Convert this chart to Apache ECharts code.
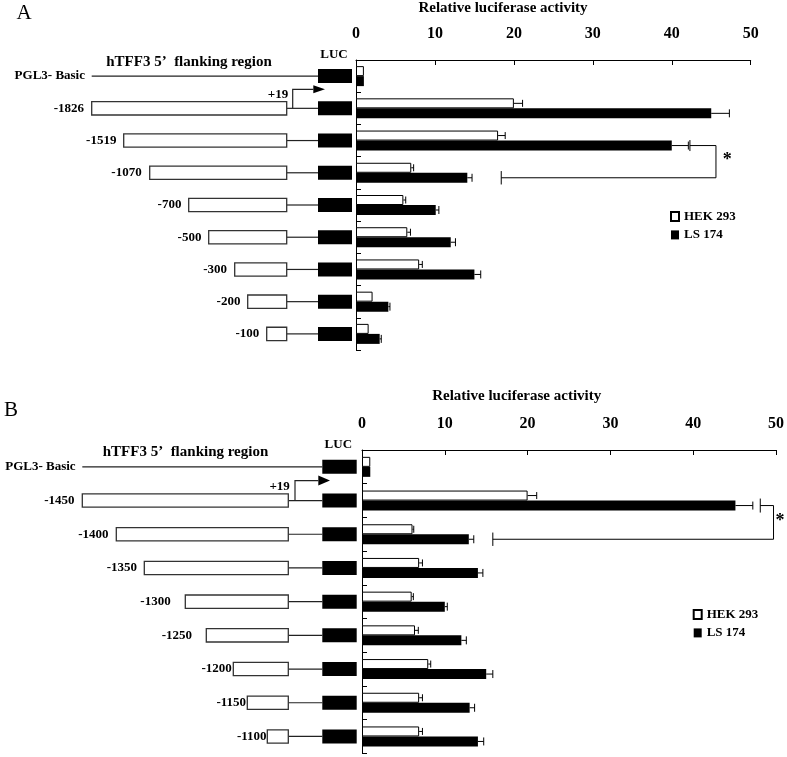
<!DOCTYPE html>
<html><head><meta charset="utf-8">
<script src="https://cdn.jsdelivr.net/npm/echarts@6/dist/echarts.min.js"></script>
<style>html,body{margin:0;padding:0;background:#fff}#c{width:787px;height:757px}</style>
</head><body><div id="c"></div>
<script>
// ---------------- data ----------------
const xTicks = [0, 10, 20, 30, 40, 50];
const seriesNames = ['HEK 293', 'LS 174'];

const constructsA = ['PGL3- Basic', '-1826', '-1519', '-1070', '-700', '-500', '-300', '-200', '-100'];
const hekA    = [1.0, 20.0, 18.0, 7.0, 6.0, 6.5, 8.0, 2.1, 1.6];
const hekErrA = [0, 1.1, 0.9, 0.3, 0.3, 0.4, 0.4, 0, 0];
const lsA     = [1.0, 45.0, 40.0, 14.1, 10.1, 12.0, 15.0, 4.1, 3.0];
const lsErrA  = [0, 2.3, 2.1, 0.6, 0.4, 0.6, 0.8, 0.2, 0.2];
// schematic drawn length of the 5' flanking region box (diagram units)
const regionLenA = [0, 195, 163, 137, 98, 78, 52, 39, 20];
// significance bracket: [start value, start row, right value, end row, end value]
const sigA = [42.3, 2, 45.6, 3, 18.4];

const constructsB = ['PGL3- Basic', '-1450', '-1400', '-1350', '-1300', '-1250', '-1200', '-1150', '-1100'];
const hekB    = [1.0, 20.0, 6.1, 6.9, 6.0, 6.4, 8.0, 6.9, 6.9];
const hekErrB = [0, 1.1, 0.15, 0.4, 0.2, 0.4, 0.3, 0.4, 0.4];
const lsB     = [1.0, 45.1, 12.9, 14.0, 10.0, 12.0, 15.0, 13.0, 14.0];
const lsErrB  = [0, 2.1, 0.6, 0.6, 0.3, 0.6, 0.8, 0.6, 0.7];
const regionLenB = [0, 206, 172, 144, 103, 82, 55, 41, 21];
const sigB = [48.1, 1, 49.7, 2, 15.8];

// ---------------- styling / layout ----------------
const serif = "'Liberation Serif', 'Times New Roman', serif";
const BAR_W = 10;

const panelA = {
  bar: {left: 356, top: 60, width: 394.7, height: 290},
  diag: {left: 0, top: 60, width: 356, height: 290, min: -286.7, max: 69.3},
  luc: [31.3, 65.3], labelGap: [6.7, 7.6, 7.3, 8, 7.3, 7.3, 7.6, 7.3, 7.4],
  arrow: {x: 6, up: 19, end: 26.6, tip: 38.3, half: 4},
  star: {dx: 11.3, dy: -1},
  caps: [5.5, 6.7]
};
const panelB = {
  bar: {left: 362, top: 450, width: 414.7, height: 303.3},
  diag: {left: 0, top: 450, width: 362, height: 303.3, min: -288.3, max: 73.7},
  luc: [34, 68.4], labelGap: [6.7, 7.7, 7.7, 7.3, 14.6, 14.3, 1.5, 1.2, 0.8],
  arrow: {x: 6.7, up: 20, end: 30, tip: 41.7, half: 5},
  star: {dx: 6.5, dy: -1},
  caps: [7, 6.7]
};

function barXAxis(gi) {
  return {
    type: 'value', gridIndex: gi, position: 'top',
    min: xTicks[0], max: xTicks[xTicks.length - 1], interval: xTicks[1] - xTicks[0],
    axisLine: {show: true, lineStyle: {color: '#000', width: 1}},
    axisTick: {show: true, inside: true, length: 5, lineStyle: {color: '#000', width: 1}},
    splitLine: {show: false},
    axisLabel: {fontFamily: serif, fontWeight: 'bold', fontSize: 16, color: '#000', margin: 18}
  };
}
function barYAxis(gi, cats) {
  return {
    type: 'category', gridIndex: gi, data: cats, inverse: true,
    axisLine: {show: true, lineStyle: {color: '#000', width: 1}},
    axisTick: {show: true, inside: true, length: 5, lineStyle: {color: '#000', width: 1}},
    axisLabel: {show: false}, splitLine: {show: false}
  };
}
function diagXAxis(gi, p) {
  return {type: 'value', gridIndex: gi, min: p.diag.min, max: p.diag.max, show: false};
}
function diagYAxis(gi, cats) {
  return {type: 'category', gridIndex: gi, data: cats, inverse: true, show: false};
}

function errData(vals, errs, side) {
  const out = [];
  vals.forEach((v, i) => { if (errs[i] > 0) out.push([v, i, errs[i], side]); });
  return out;
}
function errRender(params, api) {
  const v = api.value(0), cat = api.value(1), e = api.value(2), side = api.value(3);
  const p0 = api.coord([v, cat]);
  const p1 = api.coord([v + e, cat]);
  const y = p0[1] + side * BAR_W / 2;
  const h = side < 0 ? 3.5 : 4;
  const st = {stroke: '#000', lineWidth: 1, fill: null};
  return {type: 'group', children: [
    {type: 'line', shape: {x1: p0[0], y1: y, x2: p1[0], y2: y}, style: st},
    {type: 'line', shape: {x1: p1[0], y1: y - h, x2: p1[0], y2: y + h}, style: st}
  ]};
}
function bracketRender(p) {
  return function (params, api) {
    const a = api.coord([api.value(0), api.value(1)]);
    const r1 = api.coord([api.value(2), api.value(1)]);
    const b = api.coord([api.value(4), api.value(3)]);
    const y1 = a[1] + BAR_W / 2, y2 = b[1] + BAR_W / 2;
    const st = {stroke: '#000', lineWidth: 1, fill: null};
    const xr = r1[0];
    return {type: 'group', children: [
      {type: 'line', shape: {x1: a[0], y1: y1 - p.caps[0], x2: a[0], y2: y1 + p.caps[0]}, style: st},
      {type: 'polyline', shape: {points: [[a[0], y1], [xr, y1], [xr, y2], [b[0], y2]]}, style: st},
      {type: 'line', shape: {x1: b[0], y1: y2 - p.caps[1], x2: b[0], y2: y2 + p.caps[1]}, style: st},
      {type: 'text', style: {text: '*', x: xr + p.star.dx, y: (y1 + y2) / 2 + p.star.dy,
        textAlign: 'center', textVerticalAlign: 'middle', fontFamily: serif, fontWeight: 'bold', fontSize: 18, fill: '#000'}}
    ]};
  };
}
function diagramRender(p, cats, lens) {
  return function (params, api) {
    const i = params.dataIndex;
    const c = api.coord([0, i]);
    const cy = c[1];
    const xr = c[0];
    const lucL = api.coord([p.luc[0], i])[0], lucR = api.coord([p.luc[1], i])[0];
    const boxH = 13.3, lucH = 14;
    const children = [];
    const lineSt = {stroke: '#222', lineWidth: 1.2, fill: null};
    let leftX;
    if (i === 0) {
      leftX = api.coord([-lens[1], i])[0];
      children.push({type: 'line', shape: {x1: leftX, y1: cy, x2: lucL, y2: cy}, style: lineSt});
    } else {
      leftX = api.coord([-lens[i], i])[0];
      children.push({type: 'line', shape: {x1: xr, y1: cy, x2: lucL, y2: cy}, style: lineSt});
      children.push({type: 'rect', shape: {x: leftX, y: cy - boxH / 2, width: xr - leftX, height: boxH},
        style: {fill: '#fff', stroke: '#333', lineWidth: 1.3}});
    }
    children.push({type: 'rect', shape: {x: lucL, y: cy - lucH / 2, width: lucR - lucL, height: lucH},
      style: {fill: '#000', stroke: null}});
    children.push({type: 'text', style: {text: cats[i], x: leftX - p.labelGap[i], y: cy,
      textAlign: 'right', textVerticalAlign: 'middle', fontFamily: serif, fontWeight: 'bold', fontSize: 13, fill: '#000'}});
    if (i === 1) {
      const ax = api.coord([p.arrow.x, i])[0];
      const ae = api.coord([p.arrow.end, i])[0];
      const at = api.coord([p.arrow.tip, i])[0];
      const ty = cy - p.arrow.up;
      children.push({type: 'polyline', shape: {points: [[ax, cy], [ax, ty], [ae, ty]]}, style: lineSt});
      children.push({type: 'polygon', shape: {points: [[ae, ty - p.arrow.half], [at, ty], [ae, ty + p.arrow.half]]},
        style: {fill: '#000', stroke: null}});
      children.push({type: 'text', style: {text: '+19', x: xr + 1.5, y: cy - boxH / 2 - 7.1,
        textAlign: 'right', textVerticalAlign: 'middle', fontFamily: serif, fontWeight: 'bold', fontSize: 13, fill: '#000'}});
    }
    return {type: 'group', children};
  };
}

function panelSeries(xi, yi, dxi, dyi, p, cats, hek, hekErr, ls, lsErr, lens, sig) {
  return [
    {type: 'bar', name: seriesNames[0], xAxisIndex: xi, yAxisIndex: yi, data: hek, barWidth: BAR_W, barGap: '0%',
      itemStyle: {color: '#fff', borderColor: '#000', borderWidth: 1}, silent: true},
    {type: 'bar', name: seriesNames[1], xAxisIndex: xi, yAxisIndex: yi, data: ls, barWidth: BAR_W, barGap: '0%',
      itemStyle: {color: '#000'}, silent: true},
    {type: 'custom', xAxisIndex: xi, yAxisIndex: yi, renderItem: errRender, clip: false, silent: true,
      data: errData(hek, hekErr, -1).concat(errData(ls, lsErr, 1)), z: 3},
    {type: 'custom', xAxisIndex: xi, yAxisIndex: yi, renderItem: bracketRender(p), clip: false, silent: true,
      data: [sig], z: 3},
    {type: 'custom', xAxisIndex: dxi, yAxisIndex: dyi, renderItem: diagramRender(p, cats, lens), clip: false, silent: true,
      data: cats.map((_, i) => [0, i])}
  ];
}

// text placed by the vertical middle of its capitals
function txt(text, x, y, size, weight, align) {
  return {type: 'text', x: x, y: y, style: {text: text, fontFamily: serif, fontSize: size, fontWeight: weight,
    fill: '#000', textAlign: align || 'left', textVerticalAlign: 'middle'}};
}

const legendCommon = {
  data: seriesNames, orient: 'vertical', icon: 'rect', itemWidth: 8, itemHeight: 9, itemGap: 5.4, padding: 0,
  selectedMode: false,
  textStyle: {fontFamily: serif, fontWeight: 'bold', fontSize: 13, color: '#000'}
};

const chart = echarts.init(document.getElementById('c'), null, {renderer: 'canvas'});
chart.setOption({
  animation: false,
  backgroundColor: '#fff',
  textStyle: {fontFamily: serif},
  grid: [
    Object.assign({}, panelA.bar), {left: panelA.diag.left, top: panelA.diag.top, width: panelA.diag.width, height: panelA.diag.height},
    Object.assign({}, panelB.bar), {left: panelB.diag.left, top: panelB.diag.top, width: panelB.diag.width, height: panelB.diag.height}
  ],
  xAxis: [barXAxis(0), diagXAxis(1, panelA), barXAxis(2), diagXAxis(3, panelB)],
  yAxis: [barYAxis(0, constructsA), diagYAxis(1, constructsA), barYAxis(2, constructsB), diagYAxis(3, constructsB)],
  legend: [
    Object.assign({}, legendCommon, {left: 670, top: 210}),
    Object.assign({}, legendCommon, {left: 692.7, top: 608})
  ],
  graphic: [
    txt('A', 16.5, 13.5, 21, 'normal'),
    txt('Relative luciferase activity', 503, 8, 15, 'bold', 'center'),
    txt('hTFF3 5\u2019  flanking region', 189, 62, 15, 'bold', 'center'),
    txt('LUC', 334, 54.2, 13, 'bold', 'center'),
    txt('B', 4, 410.7, 21, 'normal'),
    txt('Relative luciferase activity', 516.7, 396.5, 15, 'bold', 'center'),
    txt('hTFF3 5\u2019  flanking region', 185.5, 452, 15, 'bold', 'center'),
    txt('LUC', 338.3, 444.2, 13, 'bold', 'center')
  ],
  series: [].concat(
    panelSeries(0, 0, 1, 1, panelA, constructsA, hekA, hekErrA, lsA, lsErrA, regionLenA, sigA),
    panelSeries(2, 2, 3, 3, panelB, constructsB, hekB, hekErrB, lsB, lsErrB, regionLenB, sigB)
  )
});
</script>
</body></html>
